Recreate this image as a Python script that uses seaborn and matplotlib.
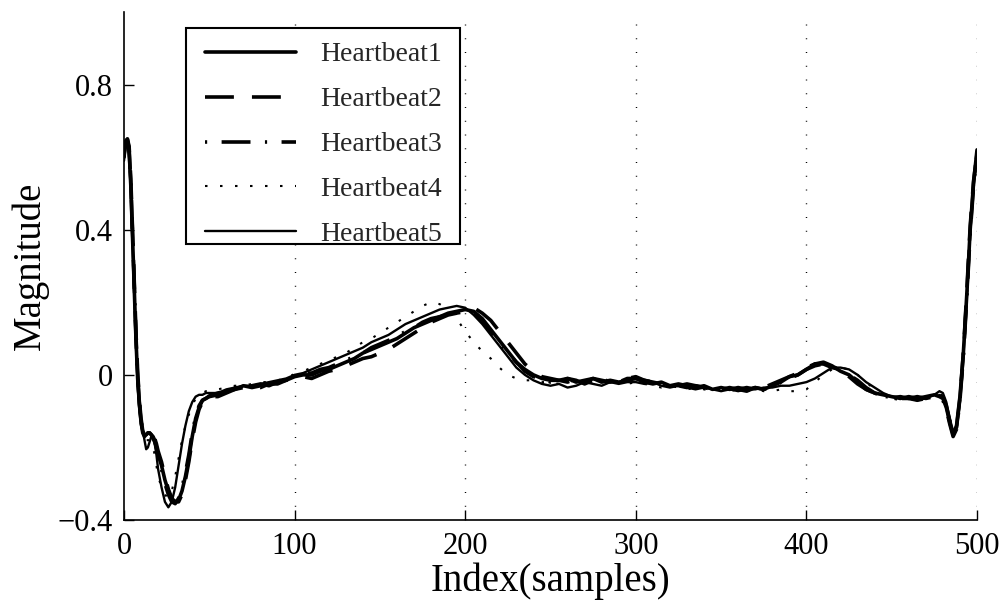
import numpy as np
import pandas as pd
import matplotlib
matplotlib.use("Agg")
import matplotlib.pyplot as plt
from matplotlib.patches import Rectangle
import seaborn as sns

# ---- data -------------------------------------------------------------
x_a = list(range(0, 21))                 # 0..20
x_b = list(range(22, 51, 2))             # 22..50
x_c = list(range(55, 476, 5))            # 55..475
x_d = list(range(478, 501, 2))           # 478..500
samples = x_a + x_b + x_c + x_d

hb1 = [0.60, 0.64, 0.65, 0.62, 0.52, 0.38, 0.24, 0.10, -0.01, -0.08, -0.13, -0.16, -0.17, -0.165, -0.16, -0.16, -0.165, -0.17, -0.18, -0.20, -0.22,
       -0.25, -0.29, -0.32, -0.345, -0.35, -0.345, -0.32, -0.28, -0.23, -0.17, -0.12, -0.09, -0.07, -0.065, -0.06,
       -0.055, -0.045, -0.04, -0.03, -0.035, -0.03, -0.025, -0.02, -0.015, -0.005,
       0.0, 0.0, 0.01, 0.015, 0.025, 0.035, 0.045, 0.06, 0.07, 0.08,
       0.09, 0.10, 0.115, 0.13, 0.14, 0.15, 0.16, 0.17, 0.175, 0.18,
       0.175, 0.155, 0.125, 0.095, 0.065, 0.035, 0.015, 0.0, -0.01, -0.015,
       -0.015, -0.01, -0.02, -0.015, -0.01, -0.02, -0.015, -0.02, -0.015, -0.01,
       -0.02, -0.025, -0.02, -0.03, -0.025, -0.03, -0.035, -0.03, -0.04, -0.035,
       -0.04, -0.035, -0.04, -0.035, -0.04, -0.03, -0.02, -0.005, 0.0, 0.015,
       0.03, 0.035, 0.025, 0.01, 0.0, -0.02, -0.04, -0.05, -0.055, -0.06,
       -0.065, -0.06, -0.065, -0.06, -0.055,
       -0.06, -0.065, -0.09, -0.13, -0.165, -0.14, -0.06, 0.06, 0.22, 0.40, 0.53, 0.62]

hb2 = [0.61, 0.645, 0.65, 0.63, 0.54, 0.40, 0.26, 0.12, 0.01, -0.07, -0.12, -0.155, -0.165, -0.16, -0.155, -0.155, -0.16, -0.165, -0.175, -0.19, -0.21,
       -0.24, -0.28, -0.315, -0.34, -0.35, -0.35, -0.33, -0.29, -0.24, -0.18, -0.13, -0.095, -0.075, -0.065, -0.06,
       -0.06, -0.05, -0.04, -0.035, -0.03, -0.035, -0.025, -0.025, -0.015, -0.01,
       -0.005, -0.01, 0.0, 0.01, 0.015, 0.025, 0.035, 0.045, 0.05, 0.06,
       0.07, 0.085, 0.10, 0.115, 0.13, 0.145, 0.155, 0.165, 0.17, 0.18,
       0.185, 0.17, 0.15, 0.12, 0.09, 0.06, 0.03, 0.01, -0.005, -0.01,
       -0.015, -0.02, -0.01, -0.02, -0.01, -0.015, -0.02, -0.015, -0.01, -0.005,
       -0.015, -0.02, -0.025, -0.02, -0.03, -0.025, -0.03, -0.035, -0.035, -0.04,
       -0.035, -0.04, -0.035, -0.04, -0.035, -0.025, -0.015, -0.005, 0.005, 0.02,
       0.03, 0.03, 0.02, 0.015, 0.0, -0.015, -0.035, -0.05, -0.06, -0.065,
       -0.06, -0.065, -0.07, -0.065, -0.06,
       -0.055, -0.06, -0.085, -0.125, -0.16, -0.145, -0.065, 0.06, 0.23, 0.41, 0.535, 0.61]

hb3 = [0.60, 0.64, 0.645, 0.62, 0.53, 0.39, 0.25, 0.11, 0.00, -0.075, -0.125, -0.16, -0.17, -0.165, -0.16, -0.16, -0.165, -0.175, -0.185, -0.20, -0.225,
       -0.26, -0.30, -0.33, -0.35, -0.355, -0.34, -0.31, -0.27, -0.22, -0.16, -0.115, -0.085, -0.07, -0.065, -0.058,
       -0.05, -0.045, -0.035, -0.035, -0.03, -0.025, -0.03, -0.02, -0.01, 0.0,
       0.005, 0.005, 0.015, 0.02, 0.03, 0.04, 0.05, 0.06, 0.075, 0.085,
       0.095, 0.105, 0.12, 0.13, 0.145, 0.155, 0.16, 0.165, 0.17, 0.175,
       0.17, 0.15, 0.12, 0.09, 0.06, 0.035, 0.01, -0.005, -0.01, -0.02,
       -0.02, -0.01, -0.015, -0.025, -0.015, -0.01, -0.02, -0.02, -0.01, -0.01,
       -0.015, -0.02, -0.03, -0.025, -0.03, -0.035, -0.03, -0.035, -0.04, -0.04,
       -0.035, -0.04, -0.045, -0.035, -0.04, -0.035, -0.02, -0.01, 0.0, 0.015,
       0.025, 0.03, 0.025, 0.01, -0.005, -0.025, -0.04, -0.05, -0.06, -0.06,
       -0.065, -0.065, -0.06, -0.065, -0.06,
       -0.06, -0.07, -0.095, -0.135, -0.17, -0.15, -0.07, 0.05, 0.21, 0.39, 0.52, 0.61]

hb4 = [0.60, 0.635, 0.64, 0.61, 0.51, 0.37, 0.23, 0.09, -0.02, -0.09, -0.14, -0.165, -0.175, -0.18, -0.18, -0.18, -0.185, -0.20, -0.22, -0.25, -0.28,
       -0.31, -0.33, -0.34, -0.32, -0.28, -0.23, -0.18, -0.14, -0.11, -0.085, -0.065, -0.055, -0.05, -0.045, -0.045,
       -0.04, -0.035, -0.03, -0.03, -0.025, -0.02, -0.02, -0.015, -0.01, 0.0,
       0.01, 0.02, 0.03, 0.04, 0.05, 0.06, 0.075, 0.09, 0.10, 0.115,
       0.13, 0.145, 0.16, 0.175, 0.19, 0.20, 0.195, 0.18, 0.155, 0.12,
       0.09, 0.065, 0.045, 0.02, 0.0, -0.01, -0.015, -0.015, -0.02, -0.02,
       -0.025, -0.02, -0.015, -0.02, -0.025, -0.02, -0.015, -0.02, -0.025, -0.02,
       -0.025, -0.03, -0.035, -0.03, -0.035, -0.04, -0.035, -0.04, -0.045, -0.04,
       -0.045, -0.04, -0.045, -0.04, -0.045, -0.045, -0.04, -0.045, -0.045, -0.04,
       -0.02, 0.0, 0.015, 0.02, 0.015, 0.0, -0.02, -0.04, -0.055, -0.065,
       -0.07, -0.065, -0.07, -0.065, -0.06,
       -0.055, -0.06, -0.085, -0.12, -0.15, -0.15, -0.07, 0.04, 0.20, 0.38, 0.51, 0.60]

hb5 = [0.59, 0.63, 0.64, 0.60, 0.50, 0.36, 0.22, 0.08, -0.03, -0.10, -0.14, -0.15, -0.18, -0.205, -0.20, -0.185, -0.17, -0.17, -0.19, -0.22, -0.26,
       -0.31, -0.35, -0.365, -0.35, -0.31, -0.25, -0.19, -0.14, -0.10, -0.075, -0.06, -0.055, -0.055, -0.05, -0.05,
       -0.05, -0.04, -0.035, -0.03, -0.03, -0.025, -0.02, -0.015, -0.01, 0.0,
       0.005, 0.015, 0.025, 0.035, 0.045, 0.055, 0.065, 0.075, 0.09, 0.10,
       0.11, 0.125, 0.14, 0.15, 0.16, 0.17, 0.18, 0.185, 0.19, 0.185,
       0.165, 0.14, 0.11, 0.08, 0.05, 0.02, 0.0, -0.015, -0.025, -0.03,
       -0.025, -0.035, -0.03, -0.02, -0.025, -0.03, -0.02, -0.025, -0.02, -0.02,
       -0.025, -0.02, -0.03, -0.035, -0.03, -0.035, -0.04, -0.035, -0.04, -0.045,
       -0.04, -0.045, -0.04, -0.04, -0.035, -0.035, -0.03, -0.03, -0.025, -0.02,
       -0.01, 0.005, 0.02, 0.02, 0.015, 0.0, -0.02, -0.035, -0.05, -0.06,
       -0.06, -0.065, -0.07, -0.065, -0.055,
       -0.045, -0.05, -0.075, -0.12, -0.155, -0.15, -0.075, 0.05, 0.21, 0.39, 0.52, 0.615]

labels = ["Heartbeat1", "Heartbeat2", "Heartbeat3", "Heartbeat4", "Heartbeat5"]
series = [hb1, hb2, hb3, hb4, hb5]

xticks = [0, 100, 200, 300, 400, 500]
yticks = [-0.4, 0, 0.4, 0.8]
yticklabels = ["\u22120.4", "0", "0.4", "0.8"]

# ---- styling ----------------------------------------------------------
sns.set_theme(style="white")
plt.rcParams['font.family'] = ['Liberation Serif', 'DejaVu Serif']

styles = [
    dict(lw=2.6, ls='-'),
    dict(lw=2.6, ls=(0, (8, 5))),
    dict(lw=2.6, ls=(0, (0.6, 4, 8, 4))),
    dict(lw=1.5, ls=(0, (1.2, 6))),
    dict(lw=1.7, ls='-'),
]

W, H = 1002, 605
fig = plt.figure(figsize=(W/100, H/100), dpi=100)
ax = fig.add_axes([124/W, (H-520)/H, (977-124)/W, (520-12)/H])

for lab, ys, st in zip(labels, series, styles):
    df = pd.DataFrame({"x": samples, "y": ys})
    sns.lineplot(data=df, x="x", y="y", ax=ax, color="black",
                 linewidth=st['lw'], linestyle=st['ls'], label=lab,
                 sort=False, estimator=None)

ax.set_xlim(0, 500)
ax.set_ylim(-0.4, 1.0)
ax.set_xticks(xticks)
ax.set_yticks(yticks)
ax.set_yticklabels(yticklabels)
ax.tick_params(direction='in', length=7, width=1, labelsize=22, colors='black',
               left=True, bottom=True, top=False, right=False)
ax.tick_params(axis='y', pad=8)
ax.tick_params(axis='x', pad=9)

for v in xticks[1:]:
    ax.axvline(v, color='black', lw=1.0, ls=(0, (0.7, 9.2)), zorder=0)

for s in ['top', 'right']:
    ax.spines[s].set_visible(False)
for s in ['left', 'bottom']:
    ax.spines[s].set_color('black')
    ax.spines[s].set_linewidth(1.2)

ax.set_xlabel("Index(samples)", fontsize=28, color='black', labelpad=1)
ax.set_ylabel("Magnitude", fontsize=28, color='black', labelpad=6)

# legend: frame drawn as a separate box so its padding matches the reference
leg = ax.legend(loc='upper left', bbox_to_anchor=(205/W, 1 - 42/H),
                bbox_transform=fig.transFigure, fontsize=20,
                frameon=False, handlelength=3.27, labelspacing=0.7,
                borderpad=0, handletextpad=0.86, borderaxespad=0)
leg.set_zorder(6)
box = Rectangle((186/W, 1 - 244/H), 274/W, 216/H, transform=fig.transFigure,
                facecolor='white', edgecolor='black', lw=1.5, zorder=5,
                clip_on=False)
ax.add_patch(box)

fig.savefig("out.png", dpi=100, facecolor='white')
